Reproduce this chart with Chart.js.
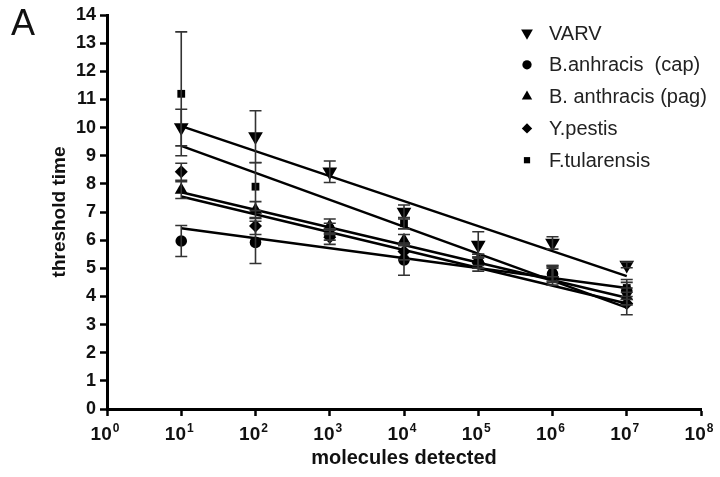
<!DOCTYPE html>
<html>
<head>
<meta charset="utf-8">
<script src="https://cdn.jsdelivr.net/npm/chart.js@4.4.1/dist/chart.umd.min.js"></script>
<style>
  html, body { margin: 0; padding: 0; background: #fff; }
  #wrap { position: relative; width: 720px; height: 477px; }
  #panel { position: absolute; left: 11px; top: 2px; font: 36px "Liberation Sans", Arial, sans-serif; color: #111; }
</style>
</head>
<body>
<div id="wrap">
  <canvas id="chartUmbral"></canvas>
  <div id="panel">A</div>
</div>
<script>
// === Datos ===
const decades = [1, 10, 100, 1e3, 1e4, 1e5, 1e6, 1e7, 1e8];
const decadeExps = ["0", "1", "2", "3", "4", "5", "6", "7", "8"];
const doses = [10, 100, 1e3, 1e4, 1e5, 1e6, 1e7];

const seriesNames = ["VARV", "B.anhracis  (cap)", "B. anthracis (pag)", "Y.pestis", "F.tularensis"];

const varv = [10.0, 9.68, 8.43, 7.0, 5.83, 5.9, 5.12];
const varvErr = [0.65, 0.92, 0.38, 0.25, 0.47, 0.22, 0.1];
const capB = [5.97, 5.92, 6.2, 5.3, 5.2, 4.8, 4.2];
const capErr = [0.55, 0.75, 0.2, 0.55, 0.3, 0.3, 0.3];
const pagB = [7.78, 7.07, 6.5, 6.0, 5.3, 4.8, 4.0];
const pagErr = [0.3, 0.3, 0.25, 0.2, 0.2, 0.25, 0.3];
const ypestis = [8.43, 6.5, 6.1, 5.6, 5.2, 4.7, 3.75];
const ypErr = [0.3, 0.3, 0.25, 0.3, 0.2, 0.3, 0.4];
const ftul = [11.2, 7.9, 6.4, 6.6, 5.2, 4.9, 4.3];
const ftulErr = [2.2, 0.85, 0.2, 0.2, 0.2, 0.2, 0.3];

// rectas de ajuste (valor en 10^1 y en 10^7)
const fitFrom = [10.05, 6.42, 7.7, 7.55, 9.35];
const fitTo = [4.72, 4.3, 3.95, 3.75, 3.6];

const allValues = [varv, capB, pagB, ypestis, ftul];
const allErrors = [varvErr, capErr, pagErr, ypErr, ftulErr];

// === Estilo de marcadores ===
const markerStyles = ["triangle", "circle", "triangle", "rectRot", "rect"];
const markerRotations = [180, 0, 0, 0, 0];
const markerSizes = [8.5, 5.8, 7.5, 6.5, 5.5];

const FONT = '"Liberation Sans", Arial, sans-serif';

const pointSets = allValues.map((vals, i) => ({
  label: seriesNames[i],
  type: "scatter",
  data: doses.map((d, j) => ({ x: d, y: vals[j] })),
  pointStyle: markerStyles[i],
  rotation: markerRotations[i],
  pointRadius: markerSizes[i],
  pointHoverRadius: markerSizes[i],
  backgroundColor: "#000",
  borderColor: "#000",
  borderWidth: 0,
  order: 1
}));

const fitSets = fitFrom.map((a, i) => ({
  label: "fit " + seriesNames[i],
  type: "line",
  data: [{ x: doses[0], y: a }, { x: doses[doses.length - 1], y: fitTo[i] }],
  borderColor: "#000",
  borderWidth: 2.5,
  pointRadius: 0,
  fill: false,
  order: 2
}));

// === Barras de error ===
const errorBars = {
  id: "errorBars",
  afterDatasetsDraw(chart) {
    const { ctx, scales: { x, y } } = chart;
    ctx.save();
    ctx.strokeStyle = "#333";
    ctx.lineWidth = 1.6;
    allValues.forEach((vals, i) => {
      vals.forEach((v, j) => {
        const e = allErrors[i][j];
        const px = x.getPixelForValue(doses[j]);
        const top = y.getPixelForValue(v + e);
        const bot = y.getPixelForValue(v - e);
        ctx.beginPath();
        ctx.moveTo(px, top); ctx.lineTo(px, bot);
        ctx.moveTo(px - 6, top); ctx.lineTo(px + 6, top);
        ctx.moveTo(px - 6, bot); ctx.lineTo(px + 6, bot);
        ctx.stroke();
      });
    });
    ctx.restore();
  }
};

// === Etiquetas 10^n con superíndice ===
const powerLabels = {
  id: "powerLabels",
  afterDraw(chart) {
    const { ctx, scales: { x } } = chart;
    ctx.save();
    ctx.fillStyle = "#111";
    ctx.textBaseline = "alphabetic";
    ctx.textAlign = "left";
    decades.forEach((v, i) => {
      const px = x.getPixelForValue(v);
      ctx.font = "bold 19px " + FONT;
      const wBase = ctx.measureText("10").width;
      ctx.font = "bold 12px " + FONT;
      const wExp = ctx.measureText(decadeExps[i]).width;
      const left = px - (wBase + wExp + 1) / 2 - 2;
      ctx.font = "bold 19px " + FONT;
      ctx.fillText("10", left, 440);
      ctx.font = "bold 12px " + FONT;
      ctx.fillText(decadeExps[i], left + wBase + 1, 432);
    });
    ctx.restore();
  }
};

// === Leyenda ===
const sideLegend = {
  id: "sideLegend",
  afterDraw(chart) {
    const ctx = chart.ctx;
    ctx.save();
    seriesNames.forEach((name, i) => {
      const cy = 33 + i * 31.8;
      ctx.fillStyle = "#000";
      ctx.strokeStyle = "#000";
      Chart.helpers.drawPoint(ctx, {
        pointStyle: markerStyles[i],
        rotation: markerRotations[i],
        radius: markerSizes[i] * 0.8,
        borderWidth: 0
      }, 527, cy);
      ctx.fillStyle = "#222";
      ctx.font = "20px " + FONT;
      ctx.textBaseline = "middle";
      ctx.textAlign = "left";
      ctx.fillText(name, 549, cy + 1);
    });
    ctx.restore();
  }
};

new Chart(document.getElementById("chartUmbral"), {
  type: "scatter",
  data: { datasets: [...fitSets, ...pointSets] },
  plugins: [errorBars, powerLabels, sideLegend],
  options: {
    responsive: true,
    maintainAspectRatio: false,
    animation: false,
    layout: { padding: { top: 15, right: 19, left: 0, bottom: 0 } },
    plugins: {
      legend: { display: false },
      tooltip: { enabled: false }
    },
    scales: {
      x: {
        type: "logarithmic",
        min: 1,
        max: 1e8,
        afterBuildTicks: (axis) => { axis.ticks = decades.map(v => ({ value: v })); },
        afterFit: (axis) => { axis.height = 68; },
        ticks: {
          autoSkip: false,
          maxRotation: 0,
          callback: () => ""
        },
        grid: { drawOnChartArea: false, drawTicks: true, tickLength: 7, tickWidth: 2.5, tickColor: "#000" },
        border: { display: true, color: "#000", width: 3 },
        title: {
          display: true,
          text: "molecules detected",
          color: "#111",
          font: { family: FONT, size: 20, weight: "bold" },
          padding: { top: 0, bottom: 7 }
        }
      },
      y: {
        min: 0,
        max: 14,
        afterFit: (axis) => { axis.width = 107; },
        ticks: {
          stepSize: 1,
          padding: 4,
          color: "#111",
          font: { family: FONT, size: 18, weight: "bold" }
        },
        grid: { drawOnChartArea: false, drawTicks: true, tickLength: 7, tickWidth: 2.5, tickColor: "#000" },
        border: { display: true, color: "#000", width: 3 },
        title: {
          display: true,
          text: "threshold time",
          color: "#111",
          font: { family: FONT, size: 19, weight: "bold" },
          padding: { top: 48, bottom: 0 }
        }
      }
    }
  }
});
</script>
</body>
</html>
